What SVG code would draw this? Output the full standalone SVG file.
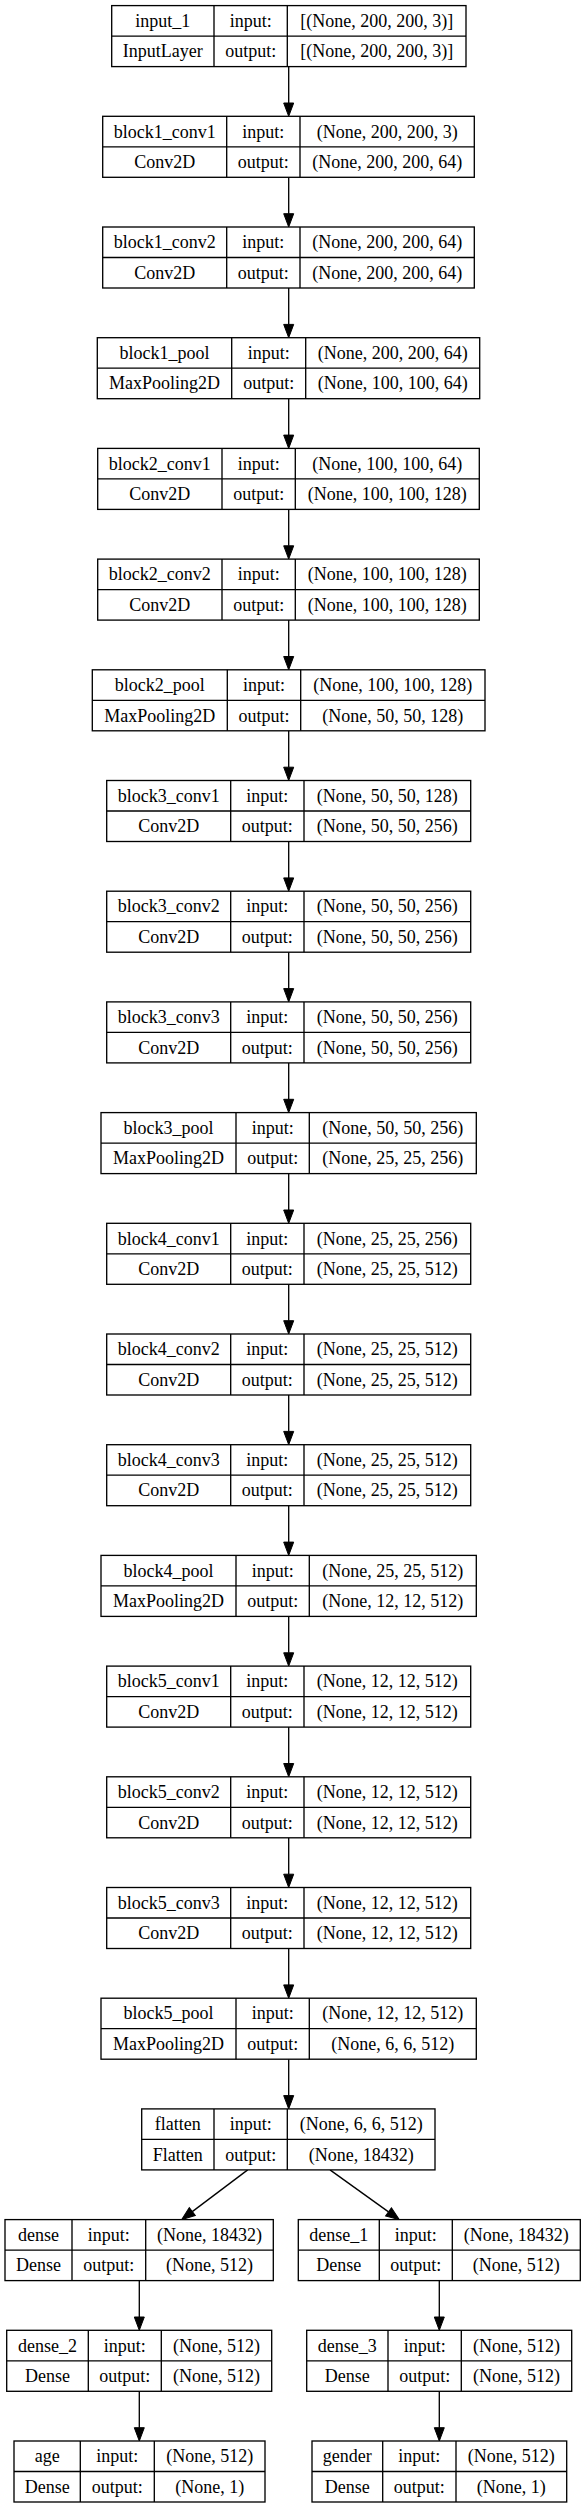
<svg xmlns="http://www.w3.org/2000/svg" width="586" height="2508" viewBox="0 0 586 2508">
<style>
.node rect{fill:#fff;stroke:#000;stroke-width:1.33}
.node path{fill:none;stroke:#000;stroke-width:1.33}
.node text{font-family:"Liberation Serif","Times New Roman",serif;font-size:18px;fill:#000;text-anchor:middle}
.edges path{fill:none;stroke:#000;stroke-width:1.33;marker-end:url(#ah)}
</style>
<defs>
<marker id="ah" markerUnits="userSpaceOnUse" viewBox="0 0 13.3 10" markerWidth="13.3" markerHeight="10" refX="0" refY="5" orient="auto" overflow="visible">
<path d="M0,0 L13.3,5 L0,10 z" fill="#000" stroke="#000" stroke-width="1"/>
</marker>
</defs>
<rect x="0" y="0" width="586" height="2508" fill="#fff"/>

<g class="edges" id="edges">
<path d="M288.7 66.6V103"/>
<path d="M288.7 177.3V213.7"/>
<path d="M288.7 288V324.4"/>
<path d="M288.7 398.7V435.1"/>
<path d="M288.7 509.4V545.8"/>
<path d="M288.7 620.1V656.5"/>
<path d="M288.7 730.8V767.2"/>
<path d="M288.7 841.5V877.9"/>
<path d="M288.7 952.2V988.6"/>
<path d="M288.7 1062.9V1099.3"/>
<path d="M288.7 1173.6V1210"/>
<path d="M288.7 1284.3V1320.7"/>
<path d="M288.7 1395V1431.4"/>
<path d="M288.7 1505.7V1542.1"/>
<path d="M288.7 1616.4V1652.8"/>
<path d="M288.7 1727.1V1763.5"/>
<path d="M288.7 1837.8V1874.2"/>
<path d="M288.7 1948.5V1984.9"/>
<path d="M288.7 2059.2V2095.6"/>
<path d="M247.7 2169.9L192.3 2211.6"/>
<path d="M330 2169.9L388.5 2211.85"/>
<path d="M139.3 2280.6V2317"/>
<path d="M139.3 2391.3V2427.7"/>
<path d="M439.3 2280.6V2317"/>
<path d="M439.3 2391.3V2427.7"/>
</g>

<g class="node" id="input_1">
<rect x="111.7" y="5.6" width="354.3" height="61"/>
<path d="M111.7 36.1H466M214 5.6V66.6M287.3 5.6V66.6"/>
<text x="162.85" y="26.8">input_1</text><text x="250.65" y="26.8">input:</text><text x="376.65" y="26.8">[(None, 200, 200, 3)]</text>
<text x="162.85" y="57.3">InputLayer</text><text x="250.65" y="57.3">output:</text><text x="376.65" y="57.3">[(None, 200, 200, 3)]</text>
</g>

<g class="node" id="block1_conv1">
<rect x="102.7" y="116.3" width="371.6" height="61"/>
<path d="M102.7 146.8H474.3M226.7 116.3V177.3M300 116.3V177.3"/>
<text x="164.7" y="137.5">block1_conv1</text><text x="263.35" y="137.5">input:</text><text x="387.15" y="137.5">(None, 200, 200, 3)</text>
<text x="164.7" y="168">Conv2D</text><text x="263.35" y="168">output:</text><text x="387.15" y="168">(None, 200, 200, 64)</text>
</g>

<g class="node" id="block1_conv2">
<rect x="102.7" y="227" width="371.6" height="61"/>
<path d="M102.7 257.5H474.3M226.7 227V288M300 227V288"/>
<text x="164.7" y="248.2">block1_conv2</text><text x="263.35" y="248.2">input:</text><text x="387.15" y="248.2">(None, 200, 200, 64)</text>
<text x="164.7" y="278.7">Conv2D</text><text x="263.35" y="278.7">output:</text><text x="387.15" y="278.7">(None, 200, 200, 64)</text>
</g>

<g class="node" id="block1_pool">
<rect x="97.3" y="337.7" width="382.4" height="61"/>
<path d="M97.3 368.2H479.7M231.7 337.7V398.7M305.7 337.7V398.7"/>
<text x="164.5" y="358.9">block1_pool</text><text x="268.7" y="358.9">input:</text><text x="392.7" y="358.9">(None, 200, 200, 64)</text>
<text x="164.5" y="389.4">MaxPooling2D</text><text x="268.7" y="389.4">output:</text><text x="392.7" y="389.4">(None, 100, 100, 64)</text>
</g>

<g class="node" id="block2_conv1">
<rect x="97.7" y="448.4" width="381.6" height="61"/>
<path d="M97.7 478.9H479.3M222 448.4V509.4M295.3 448.4V509.4"/>
<text x="159.85" y="469.6">block2_conv1</text><text x="258.65" y="469.6">input:</text><text x="387.3" y="469.6">(None, 100, 100, 64)</text>
<text x="159.85" y="500.1">Conv2D</text><text x="258.65" y="500.1">output:</text><text x="387.3" y="500.1">(None, 100, 100, 128)</text>
</g>

<g class="node" id="block2_conv2">
<rect x="97.7" y="559.1" width="381.6" height="61"/>
<path d="M97.7 589.6H479.3M222 559.1V620.1M295.3 559.1V620.1"/>
<text x="159.85" y="580.3">block2_conv2</text><text x="258.65" y="580.3">input:</text><text x="387.3" y="580.3">(None, 100, 100, 128)</text>
<text x="159.85" y="610.8">Conv2D</text><text x="258.65" y="610.8">output:</text><text x="387.3" y="610.8">(None, 100, 100, 128)</text>
</g>

<g class="node" id="block2_pool">
<rect x="92.3" y="669.8" width="392.7" height="61"/>
<path d="M92.3 700.3H485M227.3 669.8V730.8M300.7 669.8V730.8"/>
<text x="159.8" y="691">block2_pool</text><text x="264" y="691">input:</text><text x="392.85" y="691">(None, 100, 100, 128)</text>
<text x="159.8" y="721.5">MaxPooling2D</text><text x="264" y="721.5">output:</text><text x="392.85" y="721.5">(None, 50, 50, 128)</text>
</g>

<g class="node" id="block3_conv1">
<rect x="106.7" y="780.5" width="364" height="61"/>
<path d="M106.7 811H470.7M230.7 780.5V841.5M304 780.5V841.5"/>
<text x="168.7" y="801.7">block3_conv1</text><text x="267.35" y="801.7">input:</text><text x="387.35" y="801.7">(None, 50, 50, 128)</text>
<text x="168.7" y="832.2">Conv2D</text><text x="267.35" y="832.2">output:</text><text x="387.35" y="832.2">(None, 50, 50, 256)</text>
</g>

<g class="node" id="block3_conv2">
<rect x="106.7" y="891.2" width="364" height="61"/>
<path d="M106.7 921.7H470.7M230.7 891.2V952.2M304 891.2V952.2"/>
<text x="168.7" y="912.4">block3_conv2</text><text x="267.35" y="912.4">input:</text><text x="387.35" y="912.4">(None, 50, 50, 256)</text>
<text x="168.7" y="942.9">Conv2D</text><text x="267.35" y="942.9">output:</text><text x="387.35" y="942.9">(None, 50, 50, 256)</text>
</g>

<g class="node" id="block3_conv3">
<rect x="106.7" y="1001.9" width="364" height="61"/>
<path d="M106.7 1032.4H470.7M230.7 1001.9V1062.9M304 1001.9V1062.9"/>
<text x="168.7" y="1023.1">block3_conv3</text><text x="267.35" y="1023.1">input:</text><text x="387.35" y="1023.1">(None, 50, 50, 256)</text>
<text x="168.7" y="1053.6">Conv2D</text><text x="267.35" y="1053.6">output:</text><text x="387.35" y="1053.6">(None, 50, 50, 256)</text>
</g>

<g class="node" id="block3_pool">
<rect x="101" y="1112.6" width="375.3" height="61"/>
<path d="M101 1143.1H476.3M236 1112.6V1173.6M309.3 1112.6V1173.6"/>
<text x="168.5" y="1133.8">block3_pool</text><text x="272.65" y="1133.8">input:</text><text x="392.8" y="1133.8">(None, 50, 50, 256)</text>
<text x="168.5" y="1164.3">MaxPooling2D</text><text x="272.65" y="1164.3">output:</text><text x="392.8" y="1164.3">(None, 25, 25, 256)</text>
</g>

<g class="node" id="block4_conv1">
<rect x="106.7" y="1223.3" width="364" height="61"/>
<path d="M106.7 1253.8H470.7M230.7 1223.3V1284.3M304 1223.3V1284.3"/>
<text x="168.7" y="1244.5">block4_conv1</text><text x="267.35" y="1244.5">input:</text><text x="387.35" y="1244.5">(None, 25, 25, 256)</text>
<text x="168.7" y="1275">Conv2D</text><text x="267.35" y="1275">output:</text><text x="387.35" y="1275">(None, 25, 25, 512)</text>
</g>

<g class="node" id="block4_conv2">
<rect x="106.7" y="1334" width="364" height="61"/>
<path d="M106.7 1364.5H470.7M230.7 1334V1395M304 1334V1395"/>
<text x="168.7" y="1355.2">block4_conv2</text><text x="267.35" y="1355.2">input:</text><text x="387.35" y="1355.2">(None, 25, 25, 512)</text>
<text x="168.7" y="1385.7">Conv2D</text><text x="267.35" y="1385.7">output:</text><text x="387.35" y="1385.7">(None, 25, 25, 512)</text>
</g>

<g class="node" id="block4_conv3">
<rect x="106.7" y="1444.7" width="364" height="61"/>
<path d="M106.7 1475.2H470.7M230.7 1444.7V1505.7M304 1444.7V1505.7"/>
<text x="168.7" y="1465.9">block4_conv3</text><text x="267.35" y="1465.9">input:</text><text x="387.35" y="1465.9">(None, 25, 25, 512)</text>
<text x="168.7" y="1496.4">Conv2D</text><text x="267.35" y="1496.4">output:</text><text x="387.35" y="1496.4">(None, 25, 25, 512)</text>
</g>

<g class="node" id="block4_pool">
<rect x="101" y="1555.4" width="375.3" height="61"/>
<path d="M101 1585.9H476.3M236 1555.4V1616.4M309.3 1555.4V1616.4"/>
<text x="168.5" y="1576.6">block4_pool</text><text x="272.65" y="1576.6">input:</text><text x="392.8" y="1576.6">(None, 25, 25, 512)</text>
<text x="168.5" y="1607.1">MaxPooling2D</text><text x="272.65" y="1607.1">output:</text><text x="392.8" y="1607.1">(None, 12, 12, 512)</text>
</g>

<g class="node" id="block5_conv1">
<rect x="106.7" y="1666.1" width="364" height="61"/>
<path d="M106.7 1696.6H470.7M230.7 1666.1V1727.1M304 1666.1V1727.1"/>
<text x="168.7" y="1687.3">block5_conv1</text><text x="267.35" y="1687.3">input:</text><text x="387.35" y="1687.3">(None, 12, 12, 512)</text>
<text x="168.7" y="1717.8">Conv2D</text><text x="267.35" y="1717.8">output:</text><text x="387.35" y="1717.8">(None, 12, 12, 512)</text>
</g>

<g class="node" id="block5_conv2">
<rect x="106.7" y="1776.8" width="364" height="61"/>
<path d="M106.7 1807.3H470.7M230.7 1776.8V1837.8M304 1776.8V1837.8"/>
<text x="168.7" y="1798">block5_conv2</text><text x="267.35" y="1798">input:</text><text x="387.35" y="1798">(None, 12, 12, 512)</text>
<text x="168.7" y="1828.5">Conv2D</text><text x="267.35" y="1828.5">output:</text><text x="387.35" y="1828.5">(None, 12, 12, 512)</text>
</g>

<g class="node" id="block5_conv3">
<rect x="106.7" y="1887.5" width="364" height="61"/>
<path d="M106.7 1918H470.7M230.7 1887.5V1948.5M304 1887.5V1948.5"/>
<text x="168.7" y="1908.7">block5_conv3</text><text x="267.35" y="1908.7">input:</text><text x="387.35" y="1908.7">(None, 12, 12, 512)</text>
<text x="168.7" y="1939.2">Conv2D</text><text x="267.35" y="1939.2">output:</text><text x="387.35" y="1939.2">(None, 12, 12, 512)</text>
</g>

<g class="node" id="block5_pool">
<rect x="101" y="1998.2" width="375.3" height="61"/>
<path d="M101 2028.7H476.3M236 1998.2V2059.2M309.3 1998.2V2059.2"/>
<text x="168.5" y="2019.4">block5_pool</text><text x="272.65" y="2019.4">input:</text><text x="392.8" y="2019.4">(None, 12, 12, 512)</text>
<text x="168.5" y="2049.9">MaxPooling2D</text><text x="272.65" y="2049.9">output:</text><text x="392.8" y="2049.9">(None, 6, 6, 512)</text>
</g>

<g class="node" id="flatten">
<rect x="141.7" y="2108.9" width="293.3" height="61"/>
<path d="M141.7 2139.4H435M214 2108.9V2169.9M287.3 2108.9V2169.9"/>
<text x="177.85" y="2130.1">flatten</text><text x="250.65" y="2130.1">input:</text><text x="361.15" y="2130.1">(None, 6, 6, 512)</text>
<text x="177.85" y="2160.6">Flatten</text><text x="250.65" y="2160.6">output:</text><text x="361.15" y="2160.6">(None, 18432)</text>
</g>

<g class="node" id="dense">
<rect x="5" y="2219.6" width="268.3" height="61"/>
<path d="M5 2250.1H273.3M72 2219.6V2280.6M145.7 2219.6V2280.6"/>
<text x="38.5" y="2240.8">dense</text><text x="108.85" y="2240.8">input:</text><text x="209.5" y="2240.8">(None, 18432)</text>
<text x="38.5" y="2271.3">Dense</text><text x="108.85" y="2271.3">output:</text><text x="209.5" y="2271.3">(None, 512)</text>
</g>

<g class="node" id="dense_1">
<rect x="298.3" y="2219.6" width="282" height="61"/>
<path d="M298.3 2250.1H580.3M379.3 2219.6V2280.6M452.3 2219.6V2280.6"/>
<text x="338.8" y="2240.8">dense_1</text><text x="415.8" y="2240.8">input:</text><text x="516.3" y="2240.8">(None, 18432)</text>
<text x="338.8" y="2271.3">Dense</text><text x="415.8" y="2271.3">output:</text><text x="516.3" y="2271.3">(None, 512)</text>
</g>

<g class="node" id="dense_2">
<rect x="6.7" y="2330.3" width="265" height="61"/>
<path d="M6.7 2360.8H271.7M88.3 2330.3V2391.3M161.3 2330.3V2391.3"/>
<text x="47.5" y="2351.5">dense_2</text><text x="124.8" y="2351.5">input:</text><text x="216.5" y="2351.5">(None, 512)</text>
<text x="47.5" y="2382">Dense</text><text x="124.8" y="2382">output:</text><text x="216.5" y="2382">(None, 512)</text>
</g>

<g class="node" id="dense_3">
<rect x="306.7" y="2330.3" width="265" height="61"/>
<path d="M306.7 2360.8H571.7M388 2330.3V2391.3M461.3 2330.3V2391.3"/>
<text x="347.35" y="2351.5">dense_3</text><text x="424.65" y="2351.5">input:</text><text x="516.5" y="2351.5">(None, 512)</text>
<text x="347.35" y="2382">Dense</text><text x="424.65" y="2382">output:</text><text x="516.5" y="2382">(None, 512)</text>
</g>

<g class="node" id="age">
<rect x="14" y="2441" width="251" height="61"/>
<path d="M14 2471.5H265M80.3 2441V2502M154.3 2441V2502"/>
<text x="47.15" y="2462.2">age</text><text x="117.3" y="2462.2">input:</text><text x="209.65" y="2462.2">(None, 512)</text>
<text x="47.15" y="2492.7">Dense</text><text x="117.3" y="2492.7">output:</text><text x="209.65" y="2492.7">(None, 1)</text>
</g>

<g class="node" id="gender">
<rect x="312" y="2441" width="254.7" height="61"/>
<path d="M312 2471.5H566.7M382.7 2441V2502M456 2441V2502"/>
<text x="347.35" y="2462.2">gender</text><text x="419.35" y="2462.2">input:</text><text x="511.35" y="2462.2">(None, 512)</text>
<text x="347.35" y="2492.7">Dense</text><text x="419.35" y="2492.7">output:</text><text x="511.35" y="2492.7">(None, 1)</text>
</g>
</svg>
